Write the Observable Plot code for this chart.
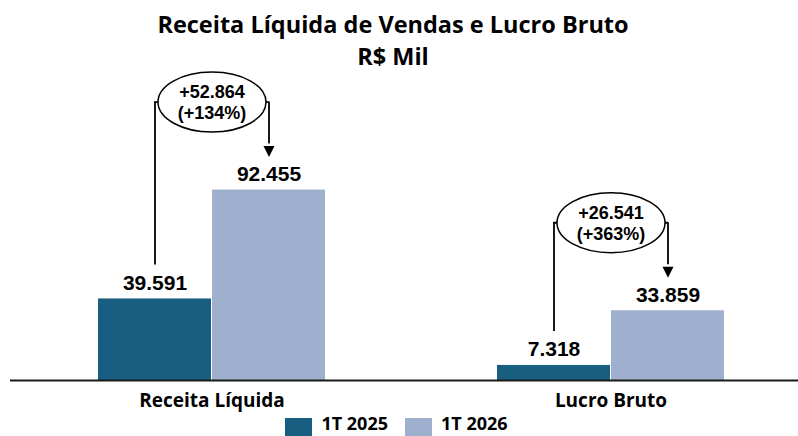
<!DOCTYPE html>
<html>
<head>
<meta charset="utf-8">
<script src="https://cdn.jsdelivr.net/npm/d3@7"></script>
<script src="https://cdn.jsdelivr.net/npm/@observablehq/plot@0.6"></script>
<style>
  html, body { margin: 0; padding: 0; background: #fff; }
  body { width: 798px; height: 436px; overflow: hidden; }
  #title {
    height: 70px; box-sizing: border-box; padding-top: 8px; padding-right: 12px;
    text-align: center; font-family: "Open Sans", sans-serif; font-weight: 700;
    font-size: 23.5px; line-height: 32px; color: #000; white-space: nowrap;
  }
  #chart svg { display: block; }
  #chart g[aria-label^="x-axis"] text { font-family: "Open Sans", sans-serif; font-size: 19px; font-weight: 700; fill: #000; }
  #legend { display: flex; justify-content: center; padding-right: 5px;
    font-family: "Open Sans", sans-serif; font-weight: 700; font-size: 18px; line-height: 18px; color: #000; }
  #legend .sw { width: 27px; height: 18px; margin-top: 7px; margin-right: 9px; }
  #legend .lb { margin-top: 3px; margin-right: 17px; }
  #legend .lb:last-child { margin-right: 0; }
</style>
</head>
<body>
<div id="title">Receita Líquida de Vendas e Lucro Bruto<br>R$ Mil</div>
<div id="chart"></div>
<div id="legend"></div>
<script>
// ---- Data ----
const categorias = ["Receita Líquida", "Lucro Bruto"];
const series = ["1T 2025", "1T 2026"];
const valores2025 = [39591, 7318];
const valores2026 = [92455, 33859];
const cores = ["#185E80", "#9EB0CE"];

// ---- Formatting ----
const loc = d3.formatLocale({decimal: ",", thousands: ".", grouping: [3], currency: ["R$", ""]});
const fmt = loc.format(",d");

// ---- Layout / scales ----
const W = 798, H = 341, mL = 10, mR = 0, mT = 104, mB = 31;
const xOpts = {type: "band", domain: categorias, paddingInner: 0.43, paddingOuter: 0.2, align: 0.544};
const yOpts = {domain: [0, 100000]};
const xs = Plot.scale({x: {...xOpts, range: [mL, W - mR]}});
const ys = Plot.scale({y: {...yOpts, range: [H - mB, mT]}});
const q = xs.bandwidth / 4;
const up = (v, px) => ys.invert(ys.apply(v) - px);

const d25 = categorias.map((c, i) => ({cat: c, serie: series[0], valor: valores2025[i]}));
const d26 = categorias.map((c, i) => ({cat: c, serie: series[1], valor: valores2026[i]}));
const ann = categorias.map((c, i) => {
  const a = valores2025[i], b = valores2026[i], diff = b - a;
  return {
    cat: c,
    yLow: up(a, 34),
    yE: up(b, 88),
    yArrowEnd: up(b, 46),
    yTri: up(b, 38.5),
    label: "+" + fmt(diff) + "\n(+" + Math.round(diff / a * 100) + "%)"
  };
});

const ellipse = {
  draw(ctx) {
    const a = 54, b = 30, k = 0.5523;
    ctx.moveTo(a, 0);
    ctx.bezierCurveTo(a, k * b, k * a, b, 0, b);
    ctx.bezierCurveTo(-k * a, b, -a, k * b, -a, 0);
    ctx.bezierCurveTo(-a, -k * b, -k * a, -b, 0, -b);
    ctx.bezierCurveTo(k * a, -b, a, -k * b, a, 0);
    ctx.closePath();
  }
};
const triangle = {
  draw(ctx) {
    ctx.moveTo(-5.5, -5.5);
    ctx.lineTo(5.5, -5.5);
    ctx.lineTo(0, 5.5);
    ctx.closePath();
  }
};

const chart = Plot.plot({
  width: W, height: H,
  marginLeft: mL, marginRight: mR, marginTop: mT, marginBottom: mB,
  x: {...xOpts, tickSize: 0, tickPadding: 13, label: null},
  y: {...yOpts, axis: null},
  style: {fontFamily: "'Liberation Sans', Arial, sans-serif", background: "white", overflow: "visible", color: "#000"},
  marks: [
    Plot.barY(d25, {x: "cat", y: "valor", fill: cores[0], insetRight: xs.bandwidth / 2}),
    Plot.barY(d26, {x: "cat", y: "valor", fill: cores[1], insetLeft: xs.bandwidth / 2}),
    Plot.ruleY([0], {stroke: "#1a1a1a", strokeWidth: 2}),
    // connectors
    Plot.ruleX(ann, {x: "cat", y1: "yLow", y2: "yE", dx: -q, stroke: "#000", strokeWidth: 1.8}),
    Plot.tickY(ann, {x: "cat", y: "yE", insetLeft: q - 0.9, insetRight: q - 0.9, stroke: "#000", strokeWidth: 1.8}),
    Plot.ruleX(ann, {x: "cat", y1: "yE", y2: "yArrowEnd", dx: q, stroke: "#000", strokeWidth: 1.8}),
    Plot.dot(ann, {x: "cat", y: "yTri", dx: q, symbol: triangle, fill: "#000", stroke: "none"}),
    Plot.dot(ann, {x: "cat", y: "yE", symbol: ellipse, fill: "white", stroke: "#000", strokeWidth: 1.5}),
    Plot.text(ann, {x: "cat", y: "yE", text: "label", fontSize: 18, fontWeight: "bold", lineHeight: 1.17, lineAnchor: "middle", fill: "#000"}),
    // value labels
    Plot.text(d25, {x: "cat", y: "valor", dx: -q, dy: -9, text: d => fmt(d.valor), lineAnchor: "bottom", fontSize: 21, fontWeight: "bold", fill: "#000"}),
    Plot.text(d26, {x: "cat", y: "valor", dx: q, dy: -9, text: d => fmt(d.valor), lineAnchor: "bottom", fontSize: 21, fontWeight: "bold", fill: "#000"})
  ]
});
document.getElementById("chart").appendChild(chart);

// ---- Legend ----
const lg = document.getElementById("legend");
series.forEach((s, i) => {
  const sw = document.createElement("div");
  sw.className = "sw"; sw.style.background = cores[i];
  const lb = document.createElement("div");
  lb.className = "lb"; lb.textContent = s;
  lg.appendChild(sw); lg.appendChild(lb);
});
</script>
</body>
</html>
